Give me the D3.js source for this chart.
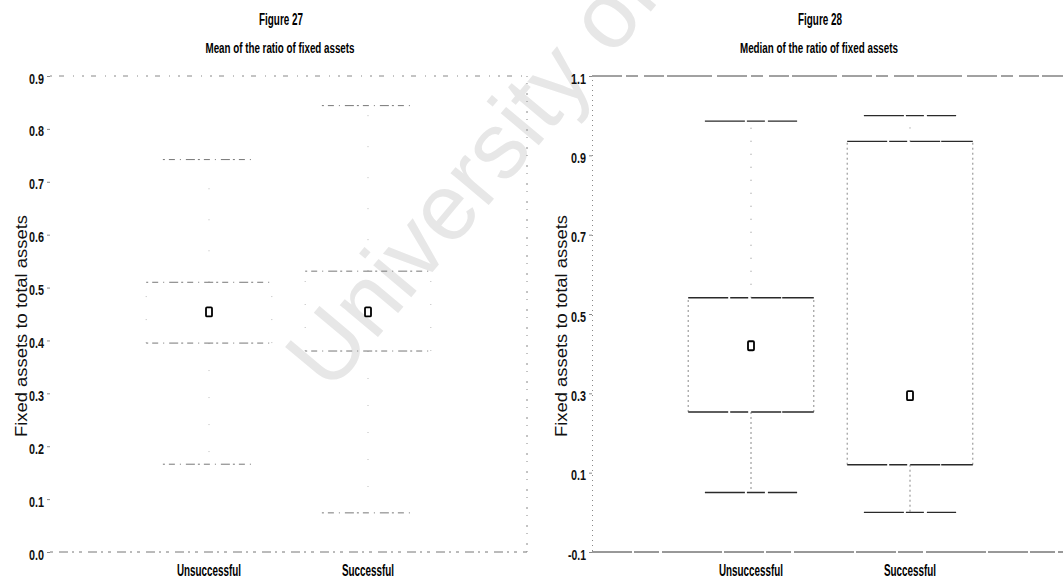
<!DOCTYPE html>
<html>
<head>
<meta charset="utf-8">
<script src="https://cdn.jsdelivr.net/npm/d3@7"></script>
<style>
  html, body { margin: 0; padding: 0; background: #ffffff; }
  svg { display: block; }
  .narrow { font-family: "Liberation Sans Narrow", "Arial Narrow", "Liberation Sans", sans-serif; }
</style>
</head>
<body>
<svg id="chart" width="1063" height="579"></svg>
<script>
// Groups shown on both panels
const categories = ["Unsuccessful", "Successful"];

// Figure 27 – mean of the ratio of fixed assets
const meanWhiskerLow  = [0.166, 0.074];
const meanQ1          = [0.395, 0.380];
const meanQ3          = [0.510, 0.531];
const meanWhiskerHigh = [0.742, 0.844];
const meanMarker      = [0.454, 0.454];
const meanTicks       = [0.0, 0.1, 0.2, 0.3, 0.4, 0.5, 0.6, 0.7, 0.8, 0.9];

// Figure 28 – median of the ratio of fixed assets
const medianWhiskerLow  = [0.050, 0.000];
const medianQ1          = [0.253, 0.120];
const medianQ3          = [0.541, 0.935];
const medianWhiskerHigh = [0.986, 1.000];
const medianMarker      = [0.420, 0.294];
const medianTicks       = [-0.1, 0.1, 0.3, 0.5, 0.7, 0.9, 1.1];

const svg = d3.select("#chart");
svg.append("rect").attr("width", 1063).attr("height", 579).attr("fill", "#fff");

// faint diagonal watermark behind the plots
svg.append("text")
  .attr("transform", "translate(330,394) rotate(-50)")
  .attr("font-family", "Liberation Sans, Arial, sans-serif")
  .attr("font-size", 94)
  .attr("fill", "#e7e7e7")
  .text("University of Cape Town");

function panel(opt) {
  const g = svg.append("g");
  const x = d3.scalePoint().domain(categories).range([opt.left, opt.right]).padding(1);
  const y = d3.scaleLinear().domain(opt.domain).range([opt.bottom, opt.top]);
  const step = x.step();
  const boxW = step * 0.79, capW = step * 0.58;
  const st = opt.stroke;

  // frame: top, bottom, right
  const frame = g.append("g").attr("fill", "none").attr("stroke", st.frame)
    .attr("stroke-width", 1).attr("stroke-dasharray", st.frameDash);
  frame.append("line").attr("x1", opt.left).attr("x2", opt.right).attr("y1", y(opt.domain[1])).attr("y2", y(opt.domain[1]));
  frame.append("line").attr("x1", opt.left).attr("x2", opt.right).attr("y1", y(opt.domain[0])).attr("y2", y(opt.domain[0]))
    .attr("stroke", st.base).attr("stroke-dasharray", st.baseDash);
  frame.append("line").attr("x1", opt.right).attr("x2", opt.right).attr("y1", y(opt.domain[0])).attr("y2", y(opt.domain[1]))
    .attr("stroke-dasharray", st.sideDash);

  // y axis
  const axis = g.append("g").attr("transform", `translate(${opt.left},0)`)
    .call(d3.axisLeft(y).tickValues(opt.ticks).tickSize(3).tickPadding(3).tickFormat(d3.format(".1f")));
  axis.select(".domain").attr("stroke", opt.showAxisLine ? "#888" : "none")
    .attr("stroke-dasharray", st.sideDash);
  axis.selectAll(".tick line").attr("stroke", "#888");
  axis.selectAll(".tick text").attr("class", "narrow").attr("font-size", 14)
    .attr("font-weight", "bold").attr("fill", "#111").attr("dy", "0.5em")
    .text(d => d3.format(".1f")(d).replace("−", "-"))
    .attr("textLength", d => d < 0 ? 18 : 15).attr("lengthAdjust", "spacingAndGlyphs");

  // axis title
  g.append("text")
    .attr("transform", `translate(${opt.titleX},326) rotate(-90)`)
    .attr("text-anchor", "middle")
    .attr("font-family", "Liberation Sans, Arial, sans-serif")
    .attr("font-size", 16.5).attr("fill", "#111")
    .attr("textLength", 222).attr("lengthAdjust", "spacingAndGlyphs")
    .text("Fixed assets to total assets");

  // headings
  g.append("text").attr("class", "narrow").attr("x", opt.headX).attr("y", 25)
    .attr("text-anchor", "middle").attr("font-size", 16).attr("font-weight", "bold")
    .attr("textLength", 44).attr("lengthAdjust", "spacingAndGlyphs")
    .text(opt.figure);
  g.append("text").attr("class", "narrow").attr("x", opt.headX - 1).attr("y", 53)
    .attr("text-anchor", "middle").attr("font-size", 14).attr("font-weight", "bold")
    .attr("textLength", opt.subLen).attr("lengthAdjust", "spacingAndGlyphs")
    .text(opt.subtitle);

  // category labels
  g.selectAll(".cat").data(categories).join("text")
    .attr("class", "narrow").attr("x", d => x(d)).attr("y", 576)
    .attr("text-anchor", "middle").attr("font-size", 16).attr("font-weight", "bold")
    .attr("textLength", d => d === "Unsuccessful" ? 64 : 52).attr("lengthAdjust", "spacingAndGlyphs")
    .text(d => d);

  // box plots
  const rows = categories.map((c, i) => ({
    c, lo: opt.lo[i], q1: opt.q1[i], q3: opt.q3[i], hi: opt.hi[i], mean: opt.mean[i]
  }));
  const b = g.selectAll(".box").data(rows).join("g").attr("fill", "none").attr("stroke", st.color);

  // box sides
  [-1, 1].forEach(s => {
    b.append("line").attr("x1", d => x(d.c) + s * boxW / 2).attr("x2", d => x(d.c) + s * boxW / 2)
      .attr("y1", d => y(d.q1)).attr("y2", d => y(d.q3))
      .attr("stroke", st.side).attr("stroke-width", 1).attr("stroke-dasharray", st.vDash);
  });
  // whiskers
  b.append("line").attr("x1", d => x(d.c)).attr("x2", d => x(d.c))
    .attr("y1", d => y(d.q1)).attr("y2", d => y(d.lo))
    .attr("stroke", st.side).attr("stroke-width", 1).attr("stroke-dasharray", st.wLowDash);
  b.append("line").attr("x1", d => x(d.c)).attr("x2", d => x(d.c))
    .attr("y1", d => y(d.q3)).attr("y2", d => y(d.hi))
    .attr("stroke", st.side).attr("stroke-width", 1).attr("stroke-dasharray", st.wHighDash);
  // box top and bottom
  ["q3", "q1"].forEach(k => {
    b.append("line").attr("x1", d => x(d.c) - boxW / 2).attr("x2", d => x(d.c) + boxW / 2)
      .attr("y1", d => y(d[k])).attr("y2", d => y(d[k]))
      .attr("stroke-width", st.hWidth).attr("stroke-dasharray", st.hDash);
  });
  // whisker caps
  ["lo", "hi"].forEach(k => {
    b.append("line").attr("x1", d => x(d.c) - capW / 2).attr("x2", d => x(d.c) + capW / 2)
      .attr("y1", d => y(d[k])).attr("y2", d => y(d[k]))
      .attr("stroke-width", st.hWidth).attr("stroke-dasharray", st.hDash);
  });
  // mean marker
  b.append("rect")
    .attr("x", d => x(d.c) - 3).attr("y", d => y(d.mean) - 4.5)
    .attr("width", 6).attr("height", 9).attr("rx", 1)
    .attr("stroke", "#000").attr("stroke-width", 1.8).attr("fill", "#fff");
}

panel({
  left: 50, right: 527, top: 76, bottom: 552,
  domain: [0, 0.9], ticks: meanTicks, showAxisLine: false,
  lo: meanWhiskerLow, q1: meanQ1, q3: meanQ3, hi: meanWhiskerHigh, mean: meanMarker,
  titleX: 27, headX: 281, figure: "Figure 27",
  subtitle: "Mean of the ratio of fixed assets", subLen: 149,
  stroke: {
    color: "#777", side: "#bbb", frame: "#888", base: "#777",
    frameDash: "2,7,5,9,1,8", baseDash: "3,6,9,4,2,5", sideDash: "1,6,2,9",
    hDash: "2,4,6,5,1,5,9,3", hWidth: 1, vDash: "1,22", wLowDash: "1,26", wHighDash: "1,30"
  }
});

panel({
  left: 592, right: 1069, top: 76, bottom: 552,
  domain: [-0.1, 1.1], ticks: medianTicks, showAxisLine: true,
  lo: medianWhiskerLow, q1: medianQ1, q3: medianQ3, hi: medianWhiskerHigh, mean: medianMarker,
  titleX: 567, headX: 820, figure: "Figure 28",
  subtitle: "Median of the ratio of fixed assets", subLen: 158,
  stroke: {
    color: "#2a2a2a", side: "#888", frame: "#444", base: "#333",
    frameDash: "30,4,12,6,20,3,45,5", baseDash: "40,2,25,3,60,2", sideDash: "1,4",
    hDash: "40,2,18,3,30,1", hWidth: 1.3, vDash: "2,3", wLowDash: "2,3", wHighDash: "1,12"
  }
});
</script>
</body>
</html>
